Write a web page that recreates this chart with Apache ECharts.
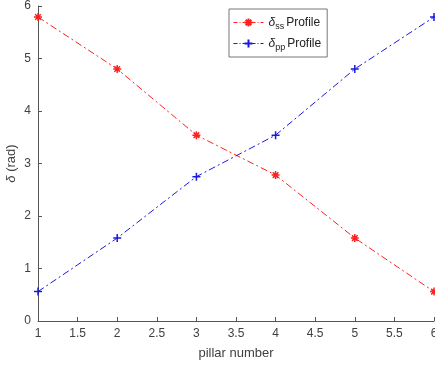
<!DOCTYPE html>
<html>
<head>
<meta charset="utf-8">
<script src="https://cdn.jsdelivr.net/npm/echarts@6/dist/echarts.min.js"></script>
<style>
  html, body { margin: 0; padding: 0; background: #fff; }
  #main { width: 435px; height: 365px; }
</style>
</head>
<body>
<div id="main"></div>
<script>
// Данные
let pillars = [1, 2, 3, 4, 5, 6];
let ssProfile = [5.79, 4.8, 3.54, 2.78, 1.58, 0.56];
let ppProfile = [0.56, 1.58, 2.75, 3.54, 4.8, 5.79];

let colors = {
  ss: "#ff2020",
  pp: "#1a1adf",
  axis: "#555555",
  text: "#404040",
};

// Символы маркеров: звёздочка и плюс
let starSymbol = "path://M5,0 L5,10 M0,5 L10,5 M1.5,1.5 L8.5,8.5 M8.5,1.5 L1.5,8.5";
let plusSymbol = "path://M5,0 L5,10 M0,5 L10,5";

let myChart = echarts.init(document.getElementById("main"));

let makeSeries = (name, values, color, symbol) => ({
  name: name,
  type: "line",
  data: pillars.map((p, i) => [p, values[i]]),
  symbol: symbol,
  symbolSize: 8,
  showSymbol: true,
  lineStyle: { color: color, width: 1, type: [7, 3, 2, 3] },
  itemStyle: { color: "none", borderColor: color, borderWidth: 1.5 },
  emphasis: { disabled: true },
});

myChart.setOption({
  animation: false,
  textStyle: { fontFamily: "Liberation Sans, Arial, sans-serif" },
  grid: { left: 38, right: 1, top: 6, bottom: 44, outerBoundsMode: "none", containLabel: false },
  legend: {
    orient: "vertical",
    left: 229,
    top: 9,
    width: 98,
    padding: [7, 6, 5, 4],
    itemGap: 6,
    itemWidth: 30,
    itemHeight: 10,
    backgroundColor: "#fff",
    borderColor: "#777",
    borderWidth: 1,
    borderRadius: 0,
    lineStyle: { type: [4, 2, 1, 2], width: 1 },
    textStyle: {
      color: "#222",
      fontSize: 12,
      rich: {
        d: { fontStyle: "italic", fontSize: 12, color: "#222" },
        s: { fontSize: 9, color: "#222", verticalAlign: "bottom", padding: [8, 2, 0, 0] },
        t: { fontSize: 12, color: "#222" },
      },
    },
    formatter: (name) => {
      let sub = name === "ss" ? "ss" : "pp";
      return "{d|δ}{s|" + sub + "}{t|Profile}";
    },
    data: ["ss", "pp"],
  },
  xAxis: {
    type: "value",
    min: 1,
    max: 6,
    interval: 0.5,
    name: "pillar number",
    nameLocation: "middle",
    nameGap: 26,
    nameMoveOverlap: false,
    nameTextStyle: { color: colors.text, fontSize: 13 },
    axisLine: { lineStyle: { color: colors.axis, width: 1 } },
    axisTick: { inside: true, length: 4, lineStyle: { color: colors.axis } },
    axisLabel: { color: colors.text, fontSize: 12, margin: 7, showMaxLabel: true },
    splitLine: { show: false },
  },
  yAxis: {
    type: "value",
    min: 0,
    max: 6,
    interval: 1,
    name: "{i|δ} (rad)",
    nameLocation: "middle",
    nameGap: 20,
    nameMoveOverlap: false,
    nameTextStyle: {
      color: colors.text,
      fontSize: 13,
      rich: { i: { fontStyle: "italic", fontSize: 13, color: colors.text } },
    },
    axisLine: { show: true, lineStyle: { color: colors.axis, width: 1 } },
    axisTick: { show: true, inside: true, length: 4, lineStyle: { color: colors.axis } },
    axisLabel: { color: colors.text, fontSize: 12, margin: 7 },
    splitLine: { show: false },
  },
  series: [
    makeSeries("ss", ssProfile, colors.ss, starSymbol),
    makeSeries("pp", ppProfile, colors.pp, plusSymbol),
  ],
});
</script>
</body>
</html>
